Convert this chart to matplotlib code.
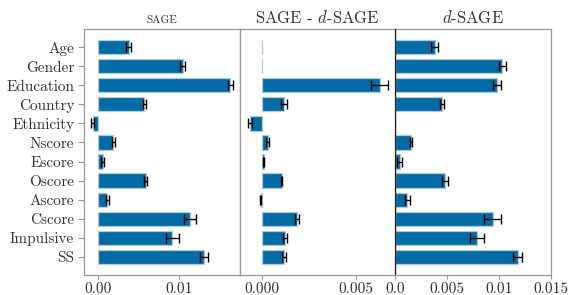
import numpy as np
import matplotlib
matplotlib.use("Agg")
import matplotlib.pyplot as plt

plt.rcParams['font.family'] = 'cmr10'
plt.rcParams['mathtext.fontset'] = 'cm'
plt.rcParams['axes.formatter.use_mathtext'] = True

features = ['Age', 'Gender', 'Education', 'Country', 'Ethnicity', 'Nscore',
            'Escore', 'Oscore', 'Ascore', 'Cscore', 'Impulsive', 'SS']

# SAGE values and errors
sage = [0.0038, 0.01045, 0.0163, 0.0057, -0.00065, 0.0019,
        0.00058, 0.0059, 0.00115, 0.01136, 0.00918, 0.01309]
sage_err = [0.00033, 0.0003, 0.0003, 0.0002, 0.0002, 0.0002,
            0.0002, 0.0002, 0.0002, 0.00072, 0.00078, 0.0005]

# SAGE - d-SAGE
diff = [0.0, 0.0, 0.00627, 0.0012, -0.00062, 0.00032,
        0.0001, 0.00106, -0.00005, 0.00187, 0.00122, 0.0012]
diff_err = [0.0, 0.0, 0.00045, 0.00016, 0.0001, 0.00008,
            0.00004, 0.00004, 0.00002, 0.0001, 0.0001, 0.0001]

# d-SAGE
dsage = [0.0038, 0.01033, 0.00982, 0.00451, 0.0, 0.00155,
         0.00045, 0.0048, 0.0012, 0.0094, 0.00789, 0.01178]
dsage_err = [0.00033, 0.0003, 0.00036, 0.0002, 0.0, 0.00012,
             0.00025, 0.00025, 0.0002, 0.0008, 0.0007, 0.0004]

bar_color = '#006BA4'
edge_color = '#b8c8d4'
spine_color = '#999999'
text_color = '#333333'

fig = plt.figure(figsize=(5.68, 2.95), dpi=100)
W, H = 568, 295
bottom = (H - 275) / H
height = 246 / H
ax1 = fig.add_axes([84 / W, bottom, 156 / W, height])
ax2 = fig.add_axes([240 / W, bottom, 155 / W, height])
ax3 = fig.add_axes([395 / W, bottom, 156 / W, height])

y = np.arange(len(features))

def panel(ax, vals, errs, xlim, ticks, ticklabels, title, tsize):
    ax.barh(y, vals, height=0.75, color=bar_color, edgecolor=edge_color,
            linewidth=0.9, zorder=2)
    vals = np.array(vals)
    errs = np.array(errs)
    keep = errs > 0
    ax.errorbar(vals[keep], y[keep], xerr=errs[keep], fmt='none', ecolor='black',
                elinewidth=1, capsize=3.5, capthick=1, zorder=3)
    ax.set_xlim(*xlim)
    ax.set_ylim(11.95, -0.95)
    ax.set_xticks(ticks)
    ax.set_xticklabels(ticklabels)
    ax.set_title(title, fontsize=tsize, color=text_color, pad=4)
    for s in ax.spines.values():
        s.set_color(spine_color)
        s.set_linewidth(0.9)
    ax.tick_params(axis='x', colors=spine_color, labelcolor=text_color,
                   labelsize=11, length=3, width=0.8, pad=2)

panel(ax1, sage, sage_err, (-0.0017, 0.0175), [0, 0.01], ['0.00', '0.01'],
      'SAGE', 8)
panel(ax2, diff, diff_err, (-0.00115, 0.00707), [0, 0.005], ['0.000', '0.005'],
      'SAGE - $d$-SAGE', 12)
panel(ax3, dsage, dsage_err, (0, 0.015), [0, 0.005, 0.01, 0.015],
      ['0.0', '0.005', '0.01', '0.015'], '$d$-SAGE', 12)
ax3.axvline(0, color='#222222', linewidth=1, zorder=4)

ax1.set_yticks(y)
ax1.set_yticklabels(features)
ax1.tick_params(axis='y', colors=spine_color, labelcolor=text_color,
                labelsize=11, length=4, width=0.8, pad=3)
for ax in (ax2, ax3):
    ax.set_yticks([])

fig.savefig('out.png', dpi=100)
